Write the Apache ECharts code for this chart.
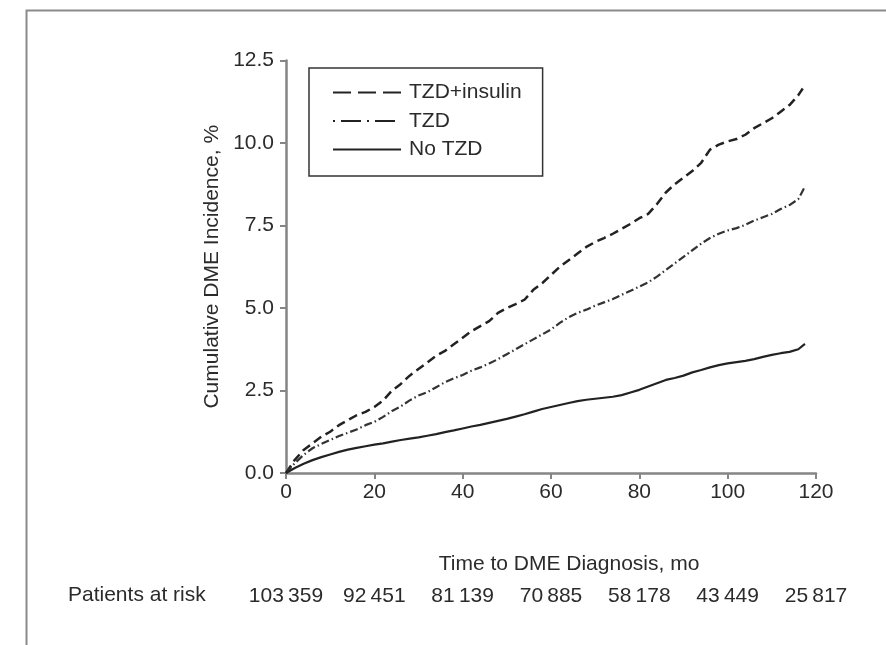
<!DOCTYPE html>
<html>
<head>
<meta charset="utf-8">
<script src="https://cdn.jsdelivr.net/npm/echarts@6/dist/echarts.min.js"></script>
<style>
html,body{margin:0;padding:0;background:#fff;}
#chart{width:886px;height:645px;}
</style>
</head>
<body>
<div id="chart"></div>
<script>
// ---- data ----
var seriesNames = ['TZD+insulin', 'TZD', 'No TZD'];
var xTicks = [0, 20, 40, 60, 80, 100, 120];
var yTicks = [0.0, 2.5, 5.0, 7.5, 10.0, 12.5];
var patientsAtRisk = ['103\u2009359', '92\u2009451', '81\u2009139', '70\u2009885', '58\u2009178', '43\u2009449', '25\u2009817'];

var tzdInsulin = [
  [0,0],[2,0.4],[4,0.7],[6,0.9],[8,1.1],[10,1.25],[12,1.45],[14,1.6],[16,1.75],[18,1.85],
  [20,2.0],[22,2.2],[24,2.5],[26,2.7],[28,2.95],[30,3.15],[32,3.35],[34,3.55],[36,3.7],[38,3.9],
  [40,4.1],[42,4.3],[44,4.45],[46,4.6],[48,4.85],[50,5.0],[52,5.12],[54,5.25],[56,5.55],[58,5.75],
  [60,6.0],[62,6.25],[64,6.45],[66,6.65],[68,6.85],[70,7.0],[72,7.12],[74,7.25],[76,7.4],[78,7.55],
  [80,7.72],[82,7.85],[84,8.15],[86,8.5],[88,8.75],[90,8.95],[92,9.15],[94,9.4],[96,9.8],[98,9.95],
  [100,10.05],[102,10.12],[104,10.25],[106,10.45],[108,10.6],[110,10.75],[112,10.95],[114,11.15],[115,11.3],[116,11.45],[117,11.65]
];
var tzd = [
  [0,0],[2,0.3],[4,0.55],[6,0.75],[8,0.88],[10,1.0],[12,1.12],[14,1.22],[16,1.32],[18,1.45],
  [20,1.55],[22,1.7],[24,1.88],[26,2.02],[28,2.2],[30,2.35],[32,2.45],[34,2.6],[36,2.75],[38,2.87],
  [40,2.97],[42,3.1],[44,3.2],[46,3.32],[48,3.45],[50,3.6],[52,3.75],[54,3.9],[56,4.05],[58,4.2],
  [60,4.35],[62,4.55],[64,4.72],[66,4.85],[68,4.95],[70,5.07],[72,5.17],[74,5.27],[76,5.4],[78,5.52],
  [80,5.65],[82,5.78],[84,5.95],[86,6.15],[88,6.35],[90,6.55],[92,6.75],[94,6.95],[96,7.12],[98,7.25],
  [100,7.35],[102,7.42],[104,7.52],[106,7.65],[108,7.75],[110,7.85],[112,8.0],[114,8.12],[116,8.3],[117,8.55],[117.5,8.7]
];
var noTzd = [
  [0,0],[2,0.15],[4,0.28],[6,0.39],[8,0.48],[10,0.56],[12,0.64],[14,0.71],[16,0.76],[18,0.81],
  [20,0.86],[22,0.9],[24,0.95],[26,1.0],[28,1.04],[30,1.08],[32,1.13],[34,1.18],[36,1.24],[38,1.29],
  [40,1.35],[42,1.41],[44,1.46],[46,1.52],[48,1.58],[50,1.64],[52,1.71],[54,1.78],[56,1.86],[58,1.94],
  [60,2.0],[62,2.06],[64,2.12],[66,2.18],[68,2.22],[70,2.25],[72,2.28],[74,2.31],[76,2.36],[78,2.44],
  [80,2.52],[82,2.62],[84,2.72],[86,2.82],[88,2.88],[90,2.95],[92,3.05],[94,3.12],[96,3.2],[98,3.27],
  [100,3.32],[102,3.36],[104,3.4],[106,3.45],[108,3.52],[110,3.58],[112,3.63],[114,3.67],[116,3.75],[117.5,3.91]
];

var FONT = '"Liberation Sans", Arial, sans-serif';
var TXT = '#2b2b2b';
var AXC = '#858585';

var chart = echarts.init(document.getElementById('chart'), null, {renderer: 'canvas'});

var option = {
  backgroundColor: '#fff',
  animation: false,
  textStyle: {fontFamily: FONT},
  grid: {left: 286, right: 70, top: 60.5, bottom: 172, containLabel: false},
  graphic: [
    {type: 'rect', left: 24, top: 8, shape: {width: 1000, height: 1000}, style: {fill: 'none', stroke: '#8a8a8a', lineWidth: 2}, silent: true},
    {type: 'text', left: 68, top: 585, style: {text: 'Patients at risk', font: '21px ' + FONT, fill: TXT}}
  ],
  legend: {
    orient: 'vertical', left: 309, top: 68,
    backgroundColor: '#fff', borderColor: '#333', borderWidth: 1.5,
    padding: [14, 21, 16, 23],
    itemWidth: 68, itemHeight: 14, itemGap: 7.5,
    itemStyle: {opacity: 0, borderWidth: 0},
    textStyle: {fontSize: 21, color: TXT, fontFamily: FONT, padding: [0, 0, 0, 3]},
    data: [
      {name: seriesNames[0], lineStyle: {type: [18, 7], width: 2, color: '#222'}},
      {name: seriesNames[1], lineStyle: {type: [2, 6, 20, 6], width: 2, color: '#222'}},
      {name: seriesNames[2], lineStyle: {type: 'solid', width: 2, color: '#222'}}
    ]
  },
  xAxis: [
    {
      type: 'value', min: 0, max: 120, interval: 20,
      axisLine: {show: true, onZero: false, lineStyle: {color: AXC, width: 2.5}},
      axisTick: {show: true, length: 6, lineStyle: {color: AXC, width: 2}},
      axisLabel: {fontSize: 21, color: TXT, margin: 9, fontFamily: FONT},
      splitLine: {show: false},
      name: 'Time to DME Diagnosis, mo', nameLocation: 'middle', nameGap: 81,
      nameTextStyle: {fontSize: 21, color: TXT, fontFamily: FONT, padding: [0, 0, 0, 36]}
    },
    {
      type: 'value', min: 0, max: 120, interval: 20, position: 'bottom', offset: 104,
      axisLine: {show: false}, axisTick: {show: false}, splitLine: {show: false},
      axisLabel: {fontSize: 21, color: TXT, margin: 9, fontFamily: FONT,
        formatter: function (v) { var i = xTicks.indexOf(v); return i >= 0 ? patientsAtRisk[i] : ''; }}
    }
  ],
  yAxis: {
    type: 'value', min: 0, max: 12.5, interval: 2.5,
    axisLine: {show: true, onZero: false, lineStyle: {color: AXC, width: 2.5}},
    axisTick: {show: true, length: 6, lineStyle: {color: AXC, width: 2}},
    axisLabel: {fontSize: 21, color: TXT, margin: 12, fontFamily: FONT,
      formatter: function (v) { return v.toFixed(1); }},
    splitLine: {show: false},
    name: 'Cumulative DME Incidence, %', nameLocation: 'middle', nameGap: 63,
    nameTextStyle: {fontSize: 21, color: TXT, fontFamily: FONT}
  },
  series: [
    {name: seriesNames[0], type: 'line', data: tzdInsulin, symbol: 'none', showSymbol: false,
      lineStyle: {color: '#222', width: 2.5, type: [9, 5]}, itemStyle: {color: '#222'}, z: 3},
    {name: seriesNames[1], type: 'line', data: tzd, symbol: 'none', showSymbol: false,
      lineStyle: {color: '#333', width: 2.2, type: [8, 3, 1.5, 3]}, itemStyle: {color: '#333'}, z: 3},
    {name: seriesNames[2], type: 'line', data: noTzd, symbol: 'none', showSymbol: false,
      lineStyle: {color: '#222', width: 2.2, type: 'solid'}, itemStyle: {color: '#222'}, z: 3}
  ]
};
chart.setOption(option);
</script>
</body>
</html>
